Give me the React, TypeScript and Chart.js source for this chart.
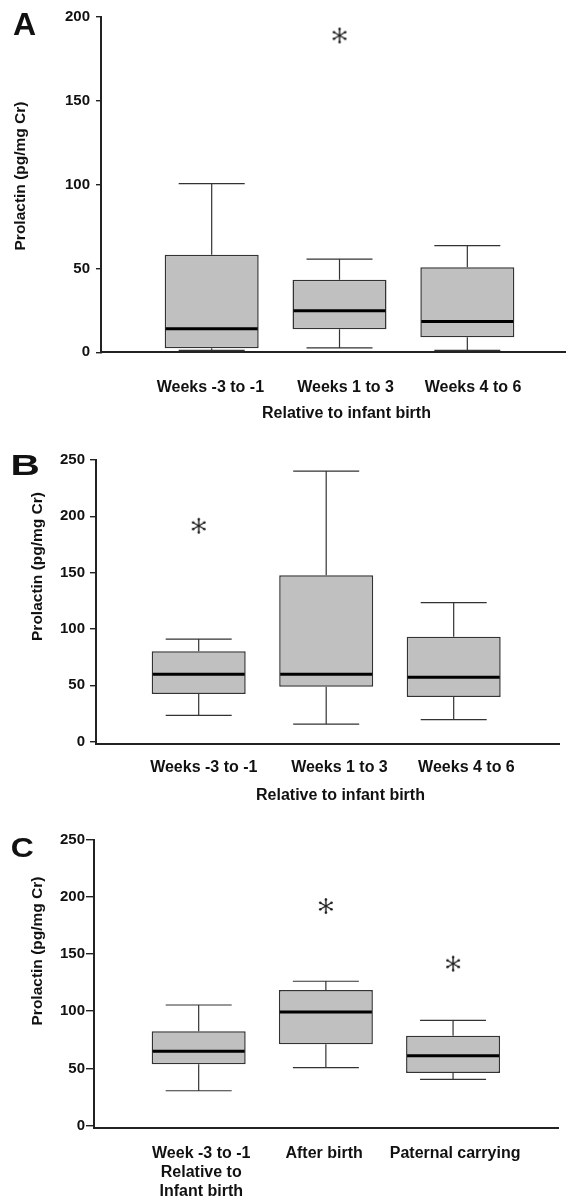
import React, { useEffect, useRef } from "react";
import { Chart, registerables } from "chart.js";

Chart.register(...registerables);

const FONT = "'Liberation Sans', Arial, Helvetica, sans-serif";
Chart.defaults.font.family = FONT;

// ---------- Panel A ----------
const catsA = ["Weeks -3 to -1", "Weeks 1 to 3", "Weeks 4 to 6"];
const minA = [1.2, 2.6, 1.2];
const q1A = [2.4, 13.7, 9.0];
const medA = [14.1, 24.7, 18.3];
const q3A = [58.1, 43.2, 50.7];
const maxA = [100.5, 55.5, 63.6];
const outCatA = [2];
const outValA = [188.8];
const yTicksA = [0, 50, 100, 150, 200];

// ---------- Panel B ----------
const catsB = ["Weeks -3 to -1", "Weeks 1 to 3", "Weeks 4 to 6"];
const minB = [23.3, 15.5, 19.4];
const q1B = [42.2, 48.7, 39.5];
const medB = [59.7, 59.7, 57.0];
const q3B = [80.1, 147.6, 93.1];
const maxB = [91, 240.2, 123.3];
const outCatB = [1];
const outValB = [191.6];
const yTicksB = [0, 50, 100, 150, 200, 250];

// ---------- Panel C ----------
const catsC: (string | string[])[] = [
  ["Week -3 to -1", "Relative to", "Infant birth"],
  "After birth",
  "Paternal carrying",
];
const minC = [30.4, 50.6, 40.4];
const q1C = [53.5, 71.0, 45.9];
const medC = [64.9, 99.3, 61.0];
const q3C = [82.4, 118.5, 78.6];
const maxC = [105.4, 126.2, 92.0];
const outCatC = [2, 3];
const outValC = [192, 141.6];
const yTicksC = [0, 50, 100, 150, 200, 250];

const yTitle = "Prolactin (pg/mg Cr)";
const xTitle = "Relative to infant birth";

type Panel = {
  letter: string;
  letterX: number;
  letterY: number;
  letterSize: number;
  letterScaleX: number;
  yTitleX: number;
  yTitleY: number;
  xTitle?: string;
  xTitleX?: number;
  xTitleY?: number;
  top: number;
  height: number;
  axisLeft: number;
  padTop: number;
  padRight: number;
  xHeight: number;
  xMin: number;
  xMax: number;
  yMin: number;
  yMax: number;
  tickLen: number;
  tickPad: number;
  xTickPad: number;
  labelShift: number[];
  cats: (string | string[])[];
  mins: number[];
  q1s: number[];
  meds: number[];
  q3s: number[];
  maxs: number[];
  outCat: number[];
  outVal: number[];
  yTicks: number[];
};

const panels: Panel[] = [
  {
    letter: "A", letterX: 13, letterY: 35, letterSize: 32, letterScaleX: 1.0,
    yTitleX: 21, yTitleY: 176,
    xTitle, xTitleX: 346.5, xTitleY: 417.5,
    top: 0, height: 430, axisLeft: 101, padTop: 16.7, padRight: 0, xHeight: 77.7,
    xMin: 0.134, xMax: 3.772, yMin: 0, yMax: 200,
    tickLen: 5, tickPad: 6, xTickPad: 25.3,
    labelShift: [-0.01, 0.047, 0.045],
    cats: catsA, mins: minA, q1s: q1A, meds: medA, q3s: q3A, maxs: maxA,
    outCat: outCatA, outVal: outValA, yTicks: yTicksA,
  },
  {
    letter: "B", letterX: 10.5, letterY: 45, letterSize: 29, letterScaleX: 1.4,
    yTitleX: 37.5, yTitleY: 136.5,
    xTitle, xTitleX: 340.5, xTitleY: 369.5,
    top: 430, height: 390, axisLeft: 96, padTop: 30, padRight: 7, xHeight: 76,
    xMin: 0.1945, xMax: 3.826, yMin: -2.2, yMax: 250,
    tickLen: 6, tickPad: 5, xTickPad: 14.2,
    labelShift: [0.04, 0.104, 0.1],
    cats: catsB, mins: minB, q1s: q1B, meds: medB, q3s: q3B, maxs: maxB,
    outCat: outCatB, outVal: outValB, yTicks: yTicksB,
  },
  {
    letter: "C", letterX: 10.7, letterY: 37, letterSize: 28, letterScaleX: 1.14,
    yTitleX: 37.5, yTitleY: 131,
    top: 820, height: 377, axisLeft: 94, padTop: 19.7, padRight: 8, xHeight: 69.3,
    xMin: 0.177, xMax: 3.825, yMin: -1.9, yMax: 250,
    tickLen: 8, tickPad: 1, xTickPad: 16.2,
    labelShift: [0.02, -0.014, 0.016],
    cats: catsC, mins: minC, q1s: q1C, meds: medC, q3s: q3C, maxs: maxC,
    outCat: outCatC, outVal: outValC, yTicks: yTicksC,
  },
];

const BOX_W = 94;
const CAP_HALF = 33;

function makeAsterisk(): HTMLCanvasElement {
  const c = document.createElement("canvas");
  c.width = 20;
  c.height = 20;
  const g = c.getContext("2d")!;
  g.strokeStyle = "#1a1a1a";
  g.fillStyle = "#1a1a1a";
  g.lineWidth = 1.4;
  g.lineCap = "round";
  const cx = 10, cy = 10, r = 7;
  [90, 30, -30].forEach((deg) => {
    const a = (deg * Math.PI) / 180;
    const dx = r * Math.cos(a), dy = r * Math.sin(a);
    g.beginPath();
    g.moveTo(cx - dx, cy - dy);
    g.lineTo(cx + dx, cy + dy);
    g.stroke();
    [1, -1].forEach((s) => {
      g.beginPath();
      g.arc(cx + s * dx * 0.92, cy + s * dy * 0.92, 1.25, 0, Math.PI * 2);
      g.fill();
    });
  });
  return c;
}

function makeBoxPlugin(p: Panel) {
  return {
    id: "boxWhisker" + p.letter,
    beforeDatasetsDraw(chart: any) {
      const { ctx, scales } = chart;
      const x = scales.x, y = scales.y;
      ctx.save();
      ctx.strokeStyle = "#333";
      ctx.lineWidth = 1.2;
      p.mins.forEach((mn, i) => {
        const px = x.getPixelForValue(i + 1);
        const yMin = y.getPixelForValue(mn);
        const yMax = y.getPixelForValue(p.maxs[i]);
        const yQ1 = y.getPixelForValue(p.q1s[i]);
        const yQ3 = y.getPixelForValue(p.q3s[i]);
        ctx.beginPath();
        ctx.moveTo(px, yQ1); ctx.lineTo(px, yMin);
        ctx.moveTo(px - CAP_HALF, yMin); ctx.lineTo(px + CAP_HALF, yMin);
        ctx.moveTo(px, yQ3); ctx.lineTo(px, yMax);
        ctx.moveTo(px - CAP_HALF, yMax); ctx.lineTo(px + CAP_HALF, yMax);
        ctx.stroke();
      });
      ctx.restore();
    },
    afterDatasetsDraw(chart: any) {
      const { ctx, scales } = chart;
      const x = scales.x, y = scales.y;
      ctx.save();
      ctx.strokeStyle = "#000";
      ctx.lineWidth = 3;
      p.meds.forEach((md, i) => {
        const px = x.getPixelForValue(i + 1);
        const py = y.getPixelForValue(md);
        ctx.beginPath();
        ctx.moveTo(px - BOX_W / 2 + 1, py);
        ctx.lineTo(px + BOX_W / 2 - 1, py);
        ctx.stroke();
      });
      ctx.restore();
    },
  };
}

function makeTextPlugin(p: Panel) {
  return {
    id: "panelText" + p.letter,
    afterDraw(chart: any) {
      const ctx = chart.ctx;
      ctx.save();
      ctx.fillStyle = "#111";
      ctx.font = `bold ${p.letterSize}px ${FONT}`;
      ctx.textAlign = "left";
      ctx.textBaseline = "alphabetic";
      ctx.translate(p.letterX, p.letterY);
      ctx.scale(p.letterScaleX, 1);
      ctx.fillText(p.letter, 0, 0);
      ctx.restore();

      ctx.save();
      ctx.fillStyle = "#111";
      ctx.font = `bold 15.5px ${FONT}`;
      ctx.textAlign = "center";
      ctx.textBaseline = "middle";
      ctx.translate(p.yTitleX, p.yTitleY);
      ctx.rotate(-Math.PI / 2);
      ctx.fillText(yTitle, 0, 0);
      ctx.restore();

      if (p.xTitle) {
        ctx.save();
        ctx.fillStyle = "#111";
        ctx.font = `bold 16px ${FONT}`;
        ctx.textAlign = "center";
        ctx.textBaseline = "alphabetic";
        ctx.fillText(p.xTitle, p.xTitleX, p.xTitleY);
        ctx.restore();
      }
    },
  };
}

function BoxPanel({ p }: { p: Panel }) {
  const ref = useRef<HTMLCanvasElement>(null);
  useEffect(() => {
    const star = makeAsterisk();
    const chart = new Chart(ref.current!, {
      type: "bar",
      data: {
        datasets: [
          {
            type: "bar",
            data: p.cats.map((_, i) => ({ x: i + 1, y: [p.q1s[i], p.q3s[i]] })) as any,
            backgroundColor: "#c0c0c0",
            borderColor: "#333",
            borderWidth: 1.5,
            borderSkipped: false,
            barThickness: BOX_W,
            inflateAmount: 0,
          } as any,
          {
            type: "scatter",
            data: p.outCat.map((c, i) => ({ x: c, y: p.outVal[i] })),
            pointStyle: star as any,
            radius: 8,
            borderWidth: 0,
            backgroundColor: "transparent",
          } as any,
        ],
      },
      options: {
        responsive: false,
        animation: false,
        events: [],
        layout: {
          autoPadding: false,
          padding: { top: p.padTop, right: p.padRight, bottom: 0, left: 0 },
        },
        plugins: {
          legend: { display: false },
          tooltip: { enabled: false },
          title: { display: false },
        },
        scales: {
          x: {
            type: "linear",
            min: p.xMin,
            max: p.xMax,
            offset: false,
            grid: { display: false, drawTicks: false },
            border: { display: true, color: "#222", width: 2 },
            ticks: {
              autoSkip: false,
              maxRotation: 0,
              minRotation: 0,
              padding: p.xTickPad,
              color: "#111",
              font: { family: FONT, size: 16, weight: "bold", lineHeight: 1.2 },
              callback: (_v: any, idx: number) => p.cats[idx] as any,
            },
            afterBuildTicks: (s: any) => {
              s.ticks = p.cats.map((_, i) => ({ value: i + 1 + p.labelShift[i] }));
            },
            afterFit: (s: any) => {
              s.height = p.xHeight;
              s.paddingLeft = 0;
              s.paddingRight = 0;
            },
          } as any,
          y: {
            type: "linear",
            min: p.yMin,
            max: p.yMax,
            grid: {
              display: true,
              drawOnChartArea: false,
              drawTicks: true,
              tickLength: p.tickLen,
              color: "#222",
              lineWidth: 1.4,
            },
            border: { display: true, color: "#222", width: 2 },
            ticks: {
              padding: p.tickPad,
              color: "#111",
              font: { family: FONT, size: 15, weight: "bold" },
            },
            afterBuildTicks: (s: any) => {
              s.ticks = p.yTicks.map((v) => ({ value: v }));
            },
            afterFit: (s: any) => {
              s.width = p.axisLeft;
            },
          } as any,
        },
      },
      plugins: [makeBoxPlugin(p), makeTextPlugin(p)],
    });
    return () => chart.destroy();
  }, [p]);
  return (
    <div style={{ position: "absolute", left: 0, top: p.top, width: 566, height: p.height }}>
      <canvas ref={ref} width={566} height={p.height} style={{ display: "block" }} />
    </div>
  );
}

export default function App() {
  return (
    <div
      style={{
        position: "fixed",
        left: 0,
        top: 0,
        width: 566,
        height: 1197,
        background: "#fff",
        overflow: "hidden",
      }}
    >
      {panels.map((p) => (
        <BoxPanel key={p.letter} p={p} />
      ))}
    </div>
  );
}
